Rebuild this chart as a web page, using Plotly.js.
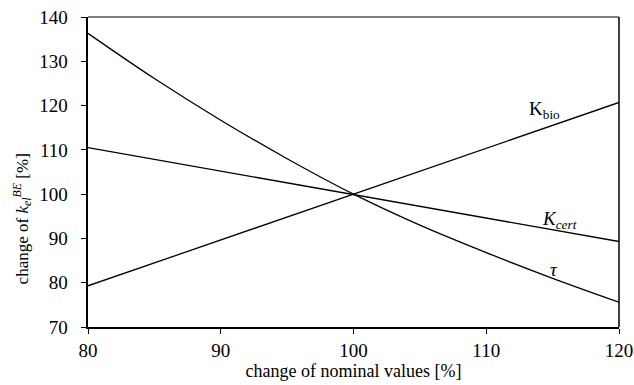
<!DOCTYPE html>
<html>
<head>
<meta charset="utf-8">
<script src="https://cdn.plot.ly/plotly-3.0.1.min.js"></script>
<style>html,body{margin:0;padding:0;background:#fff;}#chart{width:634px;height:385px;}</style>
</head>
<body>
<div id="chart"></div>
<script>
const xValues = [80, 85, 90, 95, 100, 105, 110, 115, 120];
const tauValues = [136.3, 126.1, 116.7, 108.0, 100.0, 93.0, 86.8, 81.0, 75.6];
const kbioX = [80, 120];
const kbioValues = [79.3, 120.7];
const kcertX = [80, 120];
const kcertValues = [110.5, 89.3];
const xTicks = [80, 90, 100, 110, 120];
const yTicks = [70, 80, 90, 100, 110, 120, 130, 140];

const lineStyle = {color: '#000', width: 1.3};
const traces = [
  {x: xValues, y: tauValues, mode: 'lines', line: Object.assign({shape: 'spline', smoothing: 1}, lineStyle), name: 'tau', hoverinfo: 'skip'},
  {x: kbioX, y: kbioValues, mode: 'lines', line: lineStyle, name: 'Kbio', hoverinfo: 'skip'},
  {x: kcertX, y: kcertValues, mode: 'lines', line: lineStyle, name: 'Kcert', hoverinfo: 'skip'}
];

const fam = 'Liberation Serif';

const layout = {
  width: 634, height: 385,
  margin: {l: 88, r: 15, t: 17, b: 58},
  paper_bgcolor: '#fff', plot_bgcolor: '#fff',
  showlegend: false,
  font: {family: fam, size: 17, color: '#000'},
  xaxis: {
    range: [80, 120], tickvals: xTicks, ticktext: xTicks.map(String), ticks: 'outside', ticklen: 5, tickwidth: 1, tickcolor: '#000',
    showgrid: false, zeroline: false, showline: true, linecolor: '#000', linewidth: 2,
    tickfont: {family: fam, size: 19, color: '#000'},
    title: {text: 'change of nominal values [%]', font: {family: fam, size: 18, color: '#000'}, standoff: 5}
  },
  yaxis: {
    range: [70, 140], tickvals: yTicks, ticktext: yTicks.map(v => v + '\u2002'), ticks: 'outside', ticklen: 5, tickwidth: 1, tickcolor: '#000',
    showgrid: false, zeroline: false, showline: true, linecolor: '#000', linewidth: 2,
    tickfont: {family: fam, size: 19, color: '#000'}
  },
  shapes: [
    {type: 'line', xref: 'paper', yref: 'paper', x0: 0, x1: 1, y0: 1, y1: 1, line: {color: '#000', width: 1}},
    {type: 'line', xref: 'paper', yref: 'paper', x0: 1, x1: 1, y0: 0, y1: 1, line: {color: '#000', width: 1.5}}
  ],
  annotations: [
    {x: 0, y: 94.3, xref: 'paper', yref: 'y', xshift: -66, xanchor: 'center', yanchor: 'middle', textangle: -90, text: 'change of <i>k<sub>el</sub><sup>BE</sup></i> [%]', showarrow: false, font: {family: fam, size: 17, color: '#000'}},
    {x: 114.4, y: 119.0, xref: 'x', yref: 'y', text: 'K<sub>bio</sub>', showarrow: false, font: {family: fam, size: 19, color: '#000'}},
    {x: 115.5, y: 94.2, xref: 'x', yref: 'y', text: '<i>K<sub>cert</sub></i>', showarrow: false, font: {family: fam, size: 19, color: '#000'}},
    {x: 115.1, y: 82.9, xref: 'x', yref: 'y', text: '<i>τ</i>', showarrow: false, font: {family: fam, size: 19, color: '#000'}}
  ]
};

Plotly.newPlot('chart', traces, layout, {staticPlot: true, displayModeBar: false});
</script>
</body>
</html>
